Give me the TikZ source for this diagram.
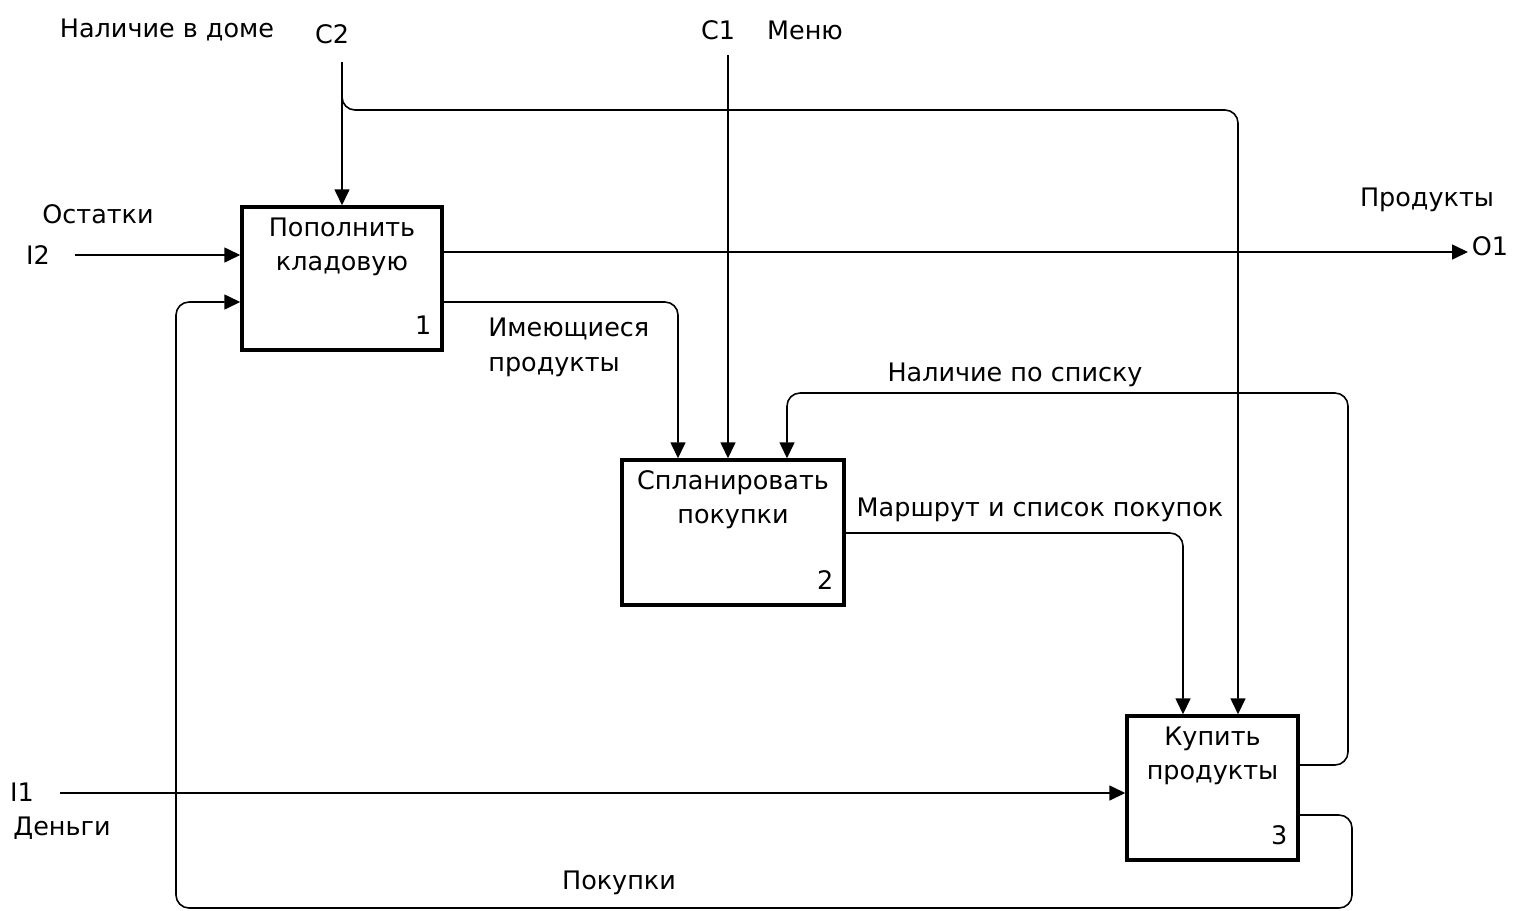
\documentclass[tikz,border=0pt]{standalone}
\usepackage{fontspec}
\setmainfont{DejaVu Sans}
\usetikzlibrary{arrows.meta,positioning,calc}
\tikzset{
  fnbox/.style={draw, line width=2pt, inner sep=0pt},
  arr/.style={line width=0.9pt, rounded corners=0.26cm,
    -{Triangle[length=0.32cm,width=0.3cm]}},
  lbl/.style={font=\fontsize{14.5}{19.6}\selectfont, inner sep=0pt},
}
\begin{document}
\begin{tikzpicture}[x=0.02cm,y=-0.02cm]
  \useasboundingbox (0,0) rectangle (1514,910);

  % function blocks
  \node[fnbox, minimum width=4cm, minimum height=2.86cm] (b1) at (342,278.5) {};
  \node[fnbox, minimum width=4.44cm, minimum height=2.9cm] (b2) at (733,532.5) {};
  \node[fnbox, minimum width=3.42cm, minimum height=2.88cm] (b3) at (1212.5,788) {};

  \node[lbl, align=center, anchor=north, below=0.24cm of b1.north] (t1) {Пополнить\\кладовую};
  \node[lbl, align=center, anchor=north, below=0.24cm of b2.north] (t2) {Спланировать\\покупки};
  \node[lbl, align=center, anchor=north, below=0.24cm of b3.north] (t3) {Купить\\продукты};
  \node[lbl, above left=0.34cm and 0.24cm of b1.south east] (n1) {1};
  \node[lbl, above left=0.34cm and 0.24cm of b2.south east] (n2) {2};
  \node[lbl, above left=0.34cm and 0.24cm of b3.south east] (n3) {3};

  % arrow ends and bends
  \coordinate (c2) at (342,62);
  \coordinate (c1) at (728,55);
  \coordinate (i2) at (75,255);
  \coordinate (i1) at (60,793);
  \coordinate (o1) at (1468,252);
  \coordinate (k2) at (1238,110);
  \coordinate (m1) at (678,302);
  \coordinate (m2) at (1348,765);
  \coordinate (m2t) at (787,393);
  \coordinate (m3) at (1183,533);
  \coordinate (m4) at (1352,815);
  \coordinate (m4b) at (176,908);

  % connectors
  \draw[arr] (c2) -- (b1.north);
  \draw[arr] (c2) |- (k2) -- (k2 |- b3.north);
  \draw[arr] (c1) -- (c1 |- b2.north);
  \draw[arr] (i2) -- (i2 -| b1.west);
  \draw[arr] (i1) -- (i1 -| b3.west);
  \draw[arr] (b1.east |- o1) -- (o1);
  \draw[arr] (b1.east |- m1) -- (m1) -- (m1 |- b2.north);
  \draw[arr] (b3.east |- m2) -- (m2) |- (m2t) -- (m2t |- b2.north);
  \draw[arr] (b2.east |- m3) -- (m3) -- (m3 |- b3.north);
  \draw[arr] (b3.east |- m4) -- (m4) |- (m4b) |- (b1.west |- m1);

  % labels
  \node[lbl] (lc2) at (167,30) {Наличие в доме};
  \node[lbl] (nc2) at (332,34) {C2};
  \node[lbl] (nc1) at (718,30) {C1};
  \node[lbl] (lc1) at (805,30) {Меню};
  \node[lbl] (li2) at (98,214) {Остатки};
  \node[lbl] (ni2) at (38,255) {I2};
  \node[lbl] (lo1) at (1427,200) {Продукты};
  \node[lbl] (no1) at (1490,246) {O1};
  \node[lbl, align=left, anchor=north west] (lm1) at (488,318) {Имеющиеся\\продукты};
  \node[lbl] (lm2) at (1015,375) {Наличие по списку};
  \node[lbl] (lm3) at (1040,510) {Маршрут и список покупок};
  \node[lbl] (ni1) at (22,792) {I1};
  \node[lbl] (li1) at (62,828) {Деньги};
  \node[lbl] (lm4) at (619,883) {Покупки};
\end{tikzpicture}
\end{document}
